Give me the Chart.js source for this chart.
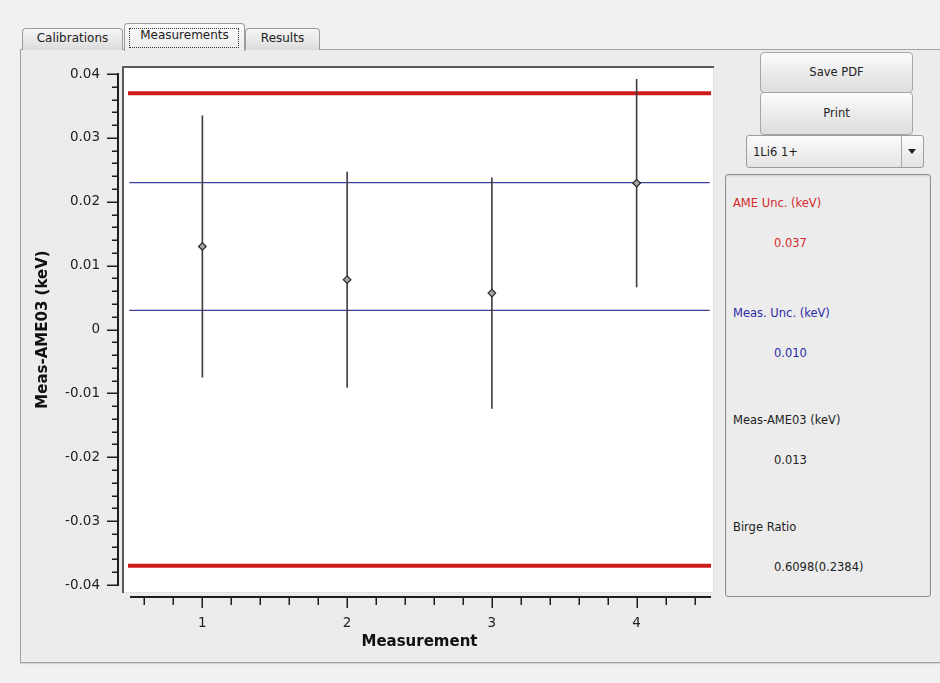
<!DOCTYPE html>
<html><head><meta charset="utf-8">
<script src="https://cdn.jsdelivr.net/npm/chart.js@4/dist/chart.umd.min.js"></script>
<style>
html,body{margin:0;padding:0;}
body{width:940px;height:683px;background:#f1f1f1;position:relative;overflow:hidden;font-family:"DejaVu Sans",sans-serif;color:#222;}
#panel{position:absolute;left:20px;top:49px;width:940px;height:614px;box-sizing:border-box;border:1px solid #a2a2a2;border-right:none;background:#ececec;box-shadow:0 1px 1px rgba(0,0,0,0.12);}
.tab{position:absolute;box-sizing:border-box;border:1px solid #9c9c9c;border-bottom:none;border-radius:4px 4px 0 0;background:linear-gradient(#f6f6f6,#dcdcdc);font-size:12px;text-align:center;}
.tab.sel{background:linear-gradient(#fbfbfb,#ececec);}
.focus{position:absolute;left:4px;top:4px;right:5px;bottom:3px;border:1px dotted #333;}
#chartBox{position:absolute;left:20px;top:50px;width:700px;height:610px;}
.btn{position:absolute;box-sizing:border-box;border:1px solid #a6a6a6;border-radius:4px;background:linear-gradient(#fcfcfc,#eaeaea 55%,#dedede);font-size:11.5px;text-align:center;}
#combo{position:absolute;left:746px;top:135px;width:178px;height:33px;box-sizing:border-box;border:1px solid #9d9d9d;border-radius:3px;background:linear-gradient(#fbfbfb,#e4e4e4);font-size:11.5px;}
#combo .txt{position:absolute;left:6px;top:9px;}
#combo .arr{position:absolute;right:0;top:0;width:21px;height:31px;border-left:1px solid #a8a8a8;}
#combo .arr:after{content:"";position:absolute;left:6px;top:13px;border-left:4px solid transparent;border-right:4px solid transparent;border-top:5px solid #222;}
#info{position:absolute;left:725px;top:174px;width:206px;height:423px;box-sizing:border-box;border:1px solid #909090;border-radius:3px;background:#ececec;box-shadow:inset 0 1px 2px rgba(0,0,0,0.12);}
.lbl{position:absolute;font-size:11.5px;line-height:14px;white-space:nowrap;}
</style></head>
<body>
<div id="panel"></div>
<div class="tab" style="left:22px;top:28px;width:101px;height:22px;line-height:19px;">Calibrations</div>
<div class="tab" style="left:245px;top:28px;width:75px;height:22px;line-height:19px;">Results</div>
<div class="tab sel" style="left:124px;top:23px;width:121px;height:28px;line-height:23px;"><div class="focus"></div>Measurements</div>
<div id="chartBox"><canvas id="c"></canvas></div>
<div class="btn" style="left:760px;top:52px;width:153px;height:41px;line-height:38px;">Save PDF</div>
<div class="btn" style="left:760px;top:92px;width:153px;height:43px;line-height:40px;">Print</div>
<div id="combo"><span class="txt">1Li6 1+</span><div class="arr"></div></div>
<div id="info"></div>
<div class="lbl" style="left:733px;top:196px;color:#d42a2a;">AME Unc. (keV)</div>
<div class="lbl" style="left:774px;top:236px;color:#d42a2a;">0.037</div>
<div class="lbl" style="left:733px;top:306px;color:#2b2ba6;">Meas. Unc. (keV)</div>
<div class="lbl" style="left:774px;top:346px;color:#2b2ba6;">0.010</div>
<div class="lbl" style="left:733px;top:413px;">Meas-AME03 (keV)</div>
<div class="lbl" style="left:774px;top:453px;">0.013</div>
<div class="lbl" style="left:733px;top:520px;">Birge Ratio</div>
<div class="lbl" style="left:774px;top:560px;">0.6098(0.2384)</div>
<script>
// ---- data ----
const measurements = [1, 2, 3, 4];
const deltas = [0.0130, 0.0078, 0.0057, 0.0229];
const errors = [0.0205, 0.0169, 0.0181, 0.0163];
const ameUncLevels = [0.037, -0.037];
const measUncLevels = [0.023, 0.003];
const xRange = [0.5, 4.5];
const yRange = [-0.04, 0.04];
const xTickValues = [1, 2, 3, 4];
const xTickLabels = ['1', '2', '3', '4'];
const yTickValues = [-0.04, -0.03, -0.02, -0.01, 0, 0.01, 0.02, 0.03, 0.04];
const yTickLabels = ['-0.04', '-0.03', '-0.02', '-0.01', '0', '0.01', '0.02', '0.03', '0.04'];

const FONT = '"DejaVu Sans", sans-serif';

function hLine(level, color, width) {
  return {
    type: 'line',
    data: [{x: xRange[0], y: level}, {x: xRange[1], y: level}],
    borderColor: color, borderWidth: width, pointRadius: 0,
    borderCapStyle: 'square', clip: false, fill: false
  };
}

const errData = [];
measurements.forEach((m, i) => {
  errData.push({x: m, y: deltas[i] - errors[i]});
  errData.push({x: m, y: deltas[i] + errors[i]});
  errData.push({x: m, y: null});
});

const frameAxes = {
  id: 'frameAxes',
  beforeDraw(chart) {
    const {ctx, chartArea: a, scales: {x, y}} = chart;
    ctx.save();
    const fl = a.left - 8, ft = a.top - 8, fr = a.right + 5, fb = a.bottom + 8;
    ctx.fillStyle = '#ffffff';
    ctx.fillRect(fl, ft, fr - fl, fb - ft);
    ctx.strokeStyle = '#e2e2e2'; ctx.lineWidth = 1;
    ctx.beginPath(); ctx.moveTo(fr - 0.5, ft); ctx.lineTo(fr - 0.5, fb - 0.5); ctx.lineTo(fl, fb - 0.5); ctx.stroke();
    ctx.strokeStyle = '#5a5a5a'; ctx.lineWidth = 2;
    ctx.beginPath(); ctx.moveTo(fl + 1, fb); ctx.lineTo(fl + 1, ft + 1); ctx.lineTo(fr, ft + 1); ctx.stroke();

    // y axis
    const ax = a.left - 12;
    const yTop = y.getPixelForValue(yRange[1]), yBot = y.getPixelForValue(yRange[0]);
    ctx.strokeStyle = '#1e1e1e'; ctx.lineWidth = 2;
    ctx.beginPath(); ctx.moveTo(ax, yTop - 1); ctx.lineTo(ax, yBot + 1); ctx.stroke();
    ctx.lineWidth = 1.5;
    for (let k = -20; k <= 20; k++) {
      const py = Math.round(y.getPixelForValue(k * 0.002)) + 0.25;
      const len = (k % 5 === 0) ? 11 : 6;
      ctx.beginPath(); ctx.moveTo(ax - len, py); ctx.lineTo(ax, py); ctx.stroke();
    }
    // x axis
    const ay = a.bottom + 12;
    const xl = x.getPixelForValue(xRange[0]), xr = x.getPixelForValue(xRange[1]);
    ctx.lineWidth = 2;
    ctx.beginPath(); ctx.moveTo(xl, ay); ctx.lineTo(xr + 2, ay); ctx.stroke();
    ctx.lineWidth = 1.5;
    for (let k = 3; k <= 22; k++) {
      const px = Math.round(x.getPixelForValue(k * 0.2)) + 0.25;
      const len = (k % 5 === 0) ? 11 : 8;
      ctx.beginPath(); ctx.moveTo(px, ay); ctx.lineTo(px, ay + len); ctx.stroke();
    }
    ctx.restore();
  }
};

new Chart(document.getElementById('c'), {
  type: 'scatter',
  data: {
    datasets: [
      {
        type: 'scatter',
        data: measurements.map((m, i) => ({x: m, y: deltas[i]})),
        pointStyle: 'rectRot', pointRadius: 3.8,
        backgroundColor: '#a4a4a4', borderColor: '#2a2a2a', borderWidth: 1.2
      },
      {
        type: 'line', data: errData, spanGaps: false,
        borderColor: '#3c3c3c', borderWidth: 1.6, pointRadius: 0, fill: false, clip: false
      },
      hLine(measUncLevels[0], '#3d3d9c', 1.3),
      hLine(measUncLevels[1], '#3d3d9c', 1.3),
      hLine(ameUncLevels[0], '#cc1c1c', 4),
      hLine(ameUncLevels[1], '#cc1c1c', 4)
    ]
  },
  options: {
    responsive: true, maintainAspectRatio: false, animation: false,
    layout: {padding: {top: 24, right: 11, left: 0, bottom: 0}, autoPadding: false},
    plugins: {legend: {display: false}, tooltip: {enabled: false}},
    events: [],
    scales: {
      x: {
        type: 'linear', min: xRange[0], max: xRange[1],
        afterBuildTicks: s => { s.ticks = xTickValues.map(v => ({value: v})); },
        afterFit: s => { s.height = 75; },
        grid: {display: false, drawTicks: true, tickLength: 30}, border: {display: false},
        ticks: {padding: 0, autoSkip: false, maxRotation: 0, color: '#222',
                font: {family: FONT, size: 13.5}, callback: (v, i) => xTickLabels[i]},
        title: {display: true, text: 'Measurement', color: '#111',
                font: {family: FONT, size: 15, weight: 'bold'}, padding: {top: 0, bottom: 9}}
      },
      y: {
        type: 'linear', min: yRange[0], max: yRange[1],
        afterBuildTicks: s => { s.ticks = yTickValues.map(v => ({value: v})); },
        afterFit: s => { s.width = 110; },
        grid: {display: false, drawTicks: true, tickLength: 30}, border: {display: false},
        ticks: {padding: 0, autoSkip: false, color: '#222',
                font: {family: FONT, size: 13.5}, callback: (v, i) => yTickLabels[i]},
        title: {display: true, text: 'Meas-AME03 (keV)', color: '#111',
                font: {family: FONT, size: 15, weight: 'bold'}, padding: {top: 14, bottom: 0}}
      }
    }
  },
  plugins: [frameAxes]
});
</script>
</body></html>
